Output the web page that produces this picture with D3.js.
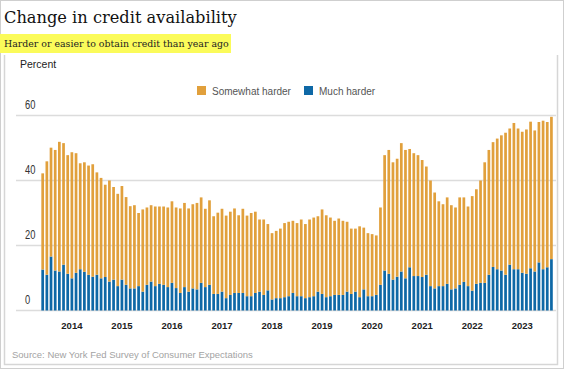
<!DOCTYPE html>
<html>
<head>
<meta charset="utf-8">
<script src="https://cdn.jsdelivr.net/npm/d3@7"></script>
<style>
  html, body { margin: 0; padding: 0; background: #fff; }
  svg { display: block; }
</style>
</head>
<body>
<svg id="chart" width="564" height="369"></svg>
<script>
// ---- Data ----
const seriesNames = ["Somewhat harder", "Much harder"];
const yTicks = [0, 20, 40, 60];
const yearLabels = ["2014","2015","2016","2017","2018","2019","2020","2021","2022","2023"];
// Monthly, June 2013 .. August 2023 (123 months)
const muchHarder = [
  12.6,11.0,16.6,12.3,12.0,14.1,11.3,9.9,11.6,12.7,11.9,11.0,10.4,11.0,9.9,10.3,8.9,9.5,7.5,9.5,
  7.9,6.8,6.8,7.5,5.8,7.9,8.9,7.5,8.2,7.9,7.2,8.5,6.9,5.4,7.2,5.8,6.8,6.5,8.5,7.2,
  7.9,5.1,5.1,5.8,3.8,4.8,5.4,5.4,5.4,4.4,4.4,5.4,5.8,4.8,6.2,3.4,3.8,3.8,4.1,4.4,
  5.4,4.4,4.4,3.8,4.1,4.4,5.8,5.1,4.1,4.4,4.8,4.8,4.8,5.8,5.1,5.8,4.1,6.5,4.4,4.4,
  4.8,7.9,12.3,11.3,9.5,10.4,12.0,9.9,13.3,10.6,10.6,10.3,11.0,7.5,6.8,7.5,7.5,8.2,6.5,6.8,
  7.9,8.8,7.5,6.1,8.2,8.5,8.5,11.0,13.4,12.7,12.3,11.0,14.1,12.7,12.7,11.6,11.3,13.0,12.0,14.8,
  12.7,13.3,15.8
];
const somewhatHarder = [
  29.6,34.9,33.5,37.1,39.9,37.4,36.5,38.8,36.8,32.6,33.7,33.6,34.6,31.5,30.9,28.4,31.1,28.5,28.4,28.8,
  27.0,25.3,25.6,22.5,25.3,23.8,23.5,24.5,23.8,24.1,24.5,25.1,24.8,26.0,25.9,25.6,25.9,26.6,26.3,24.1,
  26.0,23.9,25.0,25.5,25.4,25.6,26.0,23.9,25.9,24.8,25.6,25.0,22.2,23.2,20.4,20.4,20.7,21.4,22.8,22.9,
  22.2,22.5,23.6,22.8,23.9,24.2,23.2,26.0,25.2,24.2,22.8,23.5,22.8,21.5,20.1,19.4,21.8,19.0,19.4,19.1,
  18.3,23.8,35.5,38.1,36.1,36.3,39.5,39.5,36.4,37.8,37.2,36.0,33.3,32.5,29.5,26.1,25.2,26.6,25.9,24.9,
  26.9,26.0,24.5,29.1,29.1,31.5,37.1,38.4,38.4,40.2,41.6,43.7,41.9,45.0,43.3,43.4,44.4,45.1,43.4,43.2,
  45.7,44.7,43.8
];
const months = d3.timeMonths(new Date(2013, 5, 1), new Date(2023, 8, 1));
const colors = { "Somewhat harder": "#e1a03c", "Much harder": "#0e68a6" };

const rows = months.map((m, i) => ({
  month: m,
  "Much harder": muchHarder[i],
  "Somewhat harder": somewhatHarder[i]
}));

// ---- Drawing ----
const svg = d3.select("#chart");

// frames
svg.append("rect").attr("x", 0.5).attr("y", 0.5).attr("width", 563).attr("height", 368)
  .attr("fill", "none").attr("stroke", "#cfcfcf");
svg.append("path").attr("d", "M4.5,55 V364.5 H557.5 V55")
  .attr("fill", "none").attr("stroke", "#d6d6d6").attr("stroke-width", 1.5);

// title
const title = svg.append("text").attr("x", 4).attr("y", 23)
  .attr("font-family", "Georgia, 'DejaVu Serif', serif")
  .attr("font-size", 20).attr("fill", "#111")
  .text("Change in credit availability");
(function fit(t, w) { const l = t.node().getComputedTextLength(); t.attr("font-size", 20 * w / l); })(title, 233);

// subtitle with highlight
svg.append("rect").attr("x", 0).attr("y", 34).attr("width", 231).attr("height", 19).attr("fill", "#fbfb5a");
const sub = svg.append("text").attr("x", 4).attr("y", 47)
  .attr("font-family", "Georgia, 'DejaVu Serif', serif")
  .attr("font-size", 12).attr("fill", "#222")
  .text("Harder or easier to obtain credit than year ago");
(function fit(t, w) { const l = t.node().getComputedTextLength(); t.attr("font-size", 12 * w / l); })(sub, 225);

svg.append("text").attr("x", 20).attr("y", 68)
  .attr("font-family", "'Liberation Sans', Arial, sans-serif")
  .attr("font-size", 10.5).attr("fill", "#222").text("Percent");

// scales
const x = d3.scaleBand().domain(d3.range(months.length))
  .range([40.6, 40.6 + 123 * 4.17]).paddingInner(0.35).paddingOuter(0.175);
const y = d3.scaleLinear().domain([0, 60]).range([310.5, 115.5]);

// gridlines
svg.append("g").selectAll("line").data(yTicks).join("line")
  .attr("x1", 16).attr("x2", 556)
  .attr("y1", d => y(d)).attr("y2", d => y(d))
  .attr("stroke", "#dcdcdc").attr("stroke-width", 1.6);

// y labels (condensed look)
svg.append("g").selectAll("text").data(yTicks).join("text")
  .attr("transform", d => `translate(25,${y(d) - 6.5}) scale(0.72,1)`)
  .attr("font-family", "'Liberation Sans', Arial, sans-serif")
  .attr("font-size", 13).attr("fill", "#333")
  .text(d => d);

// stacked bars
const stack = d3.stack().keys(["Much harder", "Somewhat harder"]);
const layers = stack(rows);
svg.append("g").selectAll("g").data(layers).join("g")
  .attr("fill", d => colors[d.key])
  .selectAll("rect").data(d => d).join("rect")
  .attr("x", (d, i) => x(i))
  .attr("width", x.bandwidth())
  .attr("y", d => y(d[1]))
  .attr("height", d => y(d[0]) - y(d[1]));

// x axis
const janIdx = months.map((m, i) => i).filter(i => months[i].getMonth() === 0);
const xAxis = svg.append("g").attr("transform", "translate(0,316)")
  .call(d3.axisBottom(x).tickValues(janIdx).tickSize(0).tickPadding(0)
    .tickFormat(i => yearLabels[janIdx.indexOf(i)]));
xAxis.select(".domain").remove();
xAxis.selectAll("text")
  .attr("font-family", "'Liberation Sans', Arial, sans-serif")
  .attr("font-size", 9.5).attr("font-weight", "bold").attr("fill", "#222")
  .attr("dy", "0.71em").attr("y", 6);

// legend
const legend = svg.append("g").attr("transform", "translate(197,86)");
const legItems = [{ name: seriesNames[0], x: 0 }, { name: seriesNames[1], x: 107 }];
legItems.forEach(it => {
  legend.append("rect").attr("x", it.x).attr("y", 0).attr("width", 9).attr("height", 9)
    .attr("fill", colors[it.name]);
  legend.append("text").attr("x", it.x + 15).attr("y", 8.5)
    .attr("font-family", "'Liberation Sans', Arial, sans-serif")
    .attr("font-size", 10).attr("fill", "#555").text(it.name);
});

// source
svg.append("text").attr("x", 12).attr("y", 358)
  .attr("font-family", "'Liberation Sans', Arial, sans-serif")
  .attr("font-size", 9.5).attr("fill", "#a3a3a3")
  .text("Source: New York Fed Survey of Consumer Expectations");
</script>
</body>
</html>
